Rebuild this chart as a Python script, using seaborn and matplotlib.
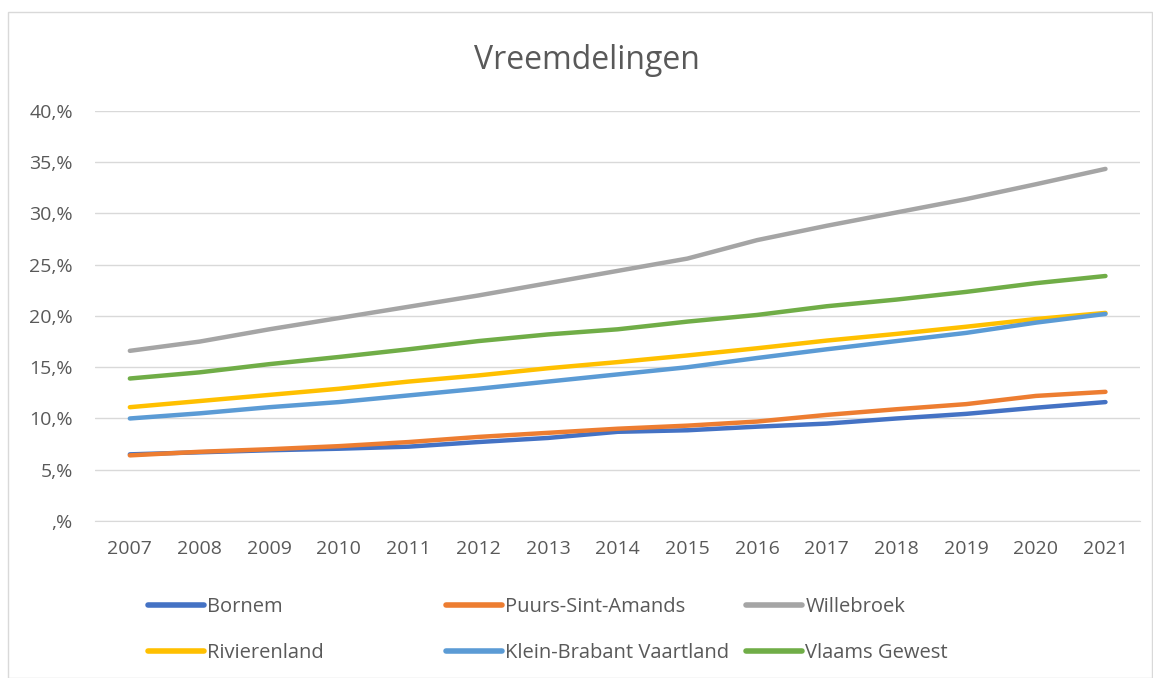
import matplotlib
matplotlib.use("Agg")
import matplotlib.pyplot as plt
from matplotlib.patches import Rectangle
from matplotlib.lines import Line2D
import seaborn as sns
import pandas as pd

# -------------------- DATA --------------------
years = list(range(2007, 2022))
bornem = [6.5, 6.7, 6.9, 7.05, 7.25, 7.7, 8.1, 8.7, 8.85, 9.2, 9.5, 10.0, 10.45, 11.05, 11.6]
puurs = [6.4, 6.75, 7.0, 7.3, 7.7, 8.2, 8.6, 9.0, 9.3, 9.7, 10.35, 10.9, 11.4, 12.2, 12.6]
willebroek = [16.6, 17.5, 18.7, 19.8, 20.9, 22.0, 23.2, 24.4, 25.6, 27.4, 28.8, 30.1, 31.4, 32.85, 34.35]
rivierenland = [11.1, 11.7, 12.3, 12.9, 13.6, 14.2, 14.9, 15.5, 16.15, 16.85, 17.6, 18.25, 18.95, 19.7, 20.3]
klein_brabant = [10.0, 10.5, 11.1, 11.6, 12.25, 12.9, 13.6, 14.3, 15.0, 15.9, 16.75, 17.55, 18.35, 19.35, 20.2]
vlaams = [13.9, 14.5, 15.3, 16.0, 16.75, 17.55, 18.2, 18.7, 19.45, 20.1, 20.95, 21.6, 22.35, 23.2, 23.9]

series = {
    "Bornem": bornem,
    "Puurs-Sint-Amands": puurs,
    "Willebroek": willebroek,
    "Rivierenland": rivierenland,
    "Klein-Brabant Vaartland": klein_brabant,
    "Vlaams Gewest": vlaams,
}
colors = ["#4472C4", "#ED7D31", "#A5A5A5", "#FFC000", "#5B9BD5", "#70AD47"]
yticks = [0, 5, 10, 15, 20, 25, 30, 35, 40]
ytick_labels = [",%", "5,%", "10,%", "15,%", "20,%", "25,%", "30,%", "35,%", "40,%"]

df = pd.DataFrame([
    {"Jaar": str(y), "Gebied": name, "Waarde": v}
    for name, vals in series.items()
    for y, v in zip(years, vals)
])

# -------------------- PLOT --------------------
sns.set_style("white")
plt.rcParams["font.family"] = ["Open Sans", "DejaVu Sans"]
text_color = "#595959"

fig = plt.figure(figsize=(11.53, 6.78), dpi=100)
ax = fig.add_axes([0.0824, 0.2316, 0.9066, 0.6047])

sns.lineplot(data=df, x="Jaar", y="Waarde", hue="Gebied", palette=colors,
             linewidth=3.2, ax=ax, legend=False, sort=False,
             solid_capstyle="round")

ax.set_xlim(-0.5, len(years) - 0.5)
ax.set_ylim(0, 40)
ax.set_yticks(yticks)
ax.set_yticklabels(ytick_labels)
ax.set_xlabel("")
ax.set_ylabel("")
ax.grid(axis="y", color="#D9D9D9", linewidth=1)
ax.set_axisbelow(True)
for side in ["top", "right", "left"]:
    ax.spines[side].set_visible(False)
ax.spines["bottom"].set_color("#D9D9D9")
ax.tick_params(axis="both", length=0, labelsize=14, labelcolor=text_color)
ax.tick_params(axis="x", pad=14)
ax.tick_params(axis="y", pad=16)

fig.text(0.509, 0.911, "Vreemdelingen", ha="center", va="center",
         fontsize=23, color=text_color)

# -------------------- LEGEND --------------------
names = list(series.keys())
handles = [Line2D([0], [0], color=c, linewidth=4, solid_capstyle="round") for c in colors]
col_x = [0.1284, 0.3868, 0.647]
for j, x in enumerate(col_x):
    leg = fig.legend([handles[j], handles[j + 3]], [names[j], names[j + 3]],
                     loc="upper left", bbox_to_anchor=(x, 0.1195), frameon=False,
                     fontsize=14.5, handlelength=2.8, handletextpad=0.15,
                     labelspacing=1.3, borderaxespad=0, borderpad=0)
    for t in leg.get_texts():
        t.set_color(text_color)

fig.patches.append(Rectangle((0.007, 0.0), 0.992, 0.982, transform=fig.transFigure,
                             fill=False, edgecolor="#D9D9D9", linewidth=1))

fig.savefig("out.png", dpi=100)
plt.close(fig)
